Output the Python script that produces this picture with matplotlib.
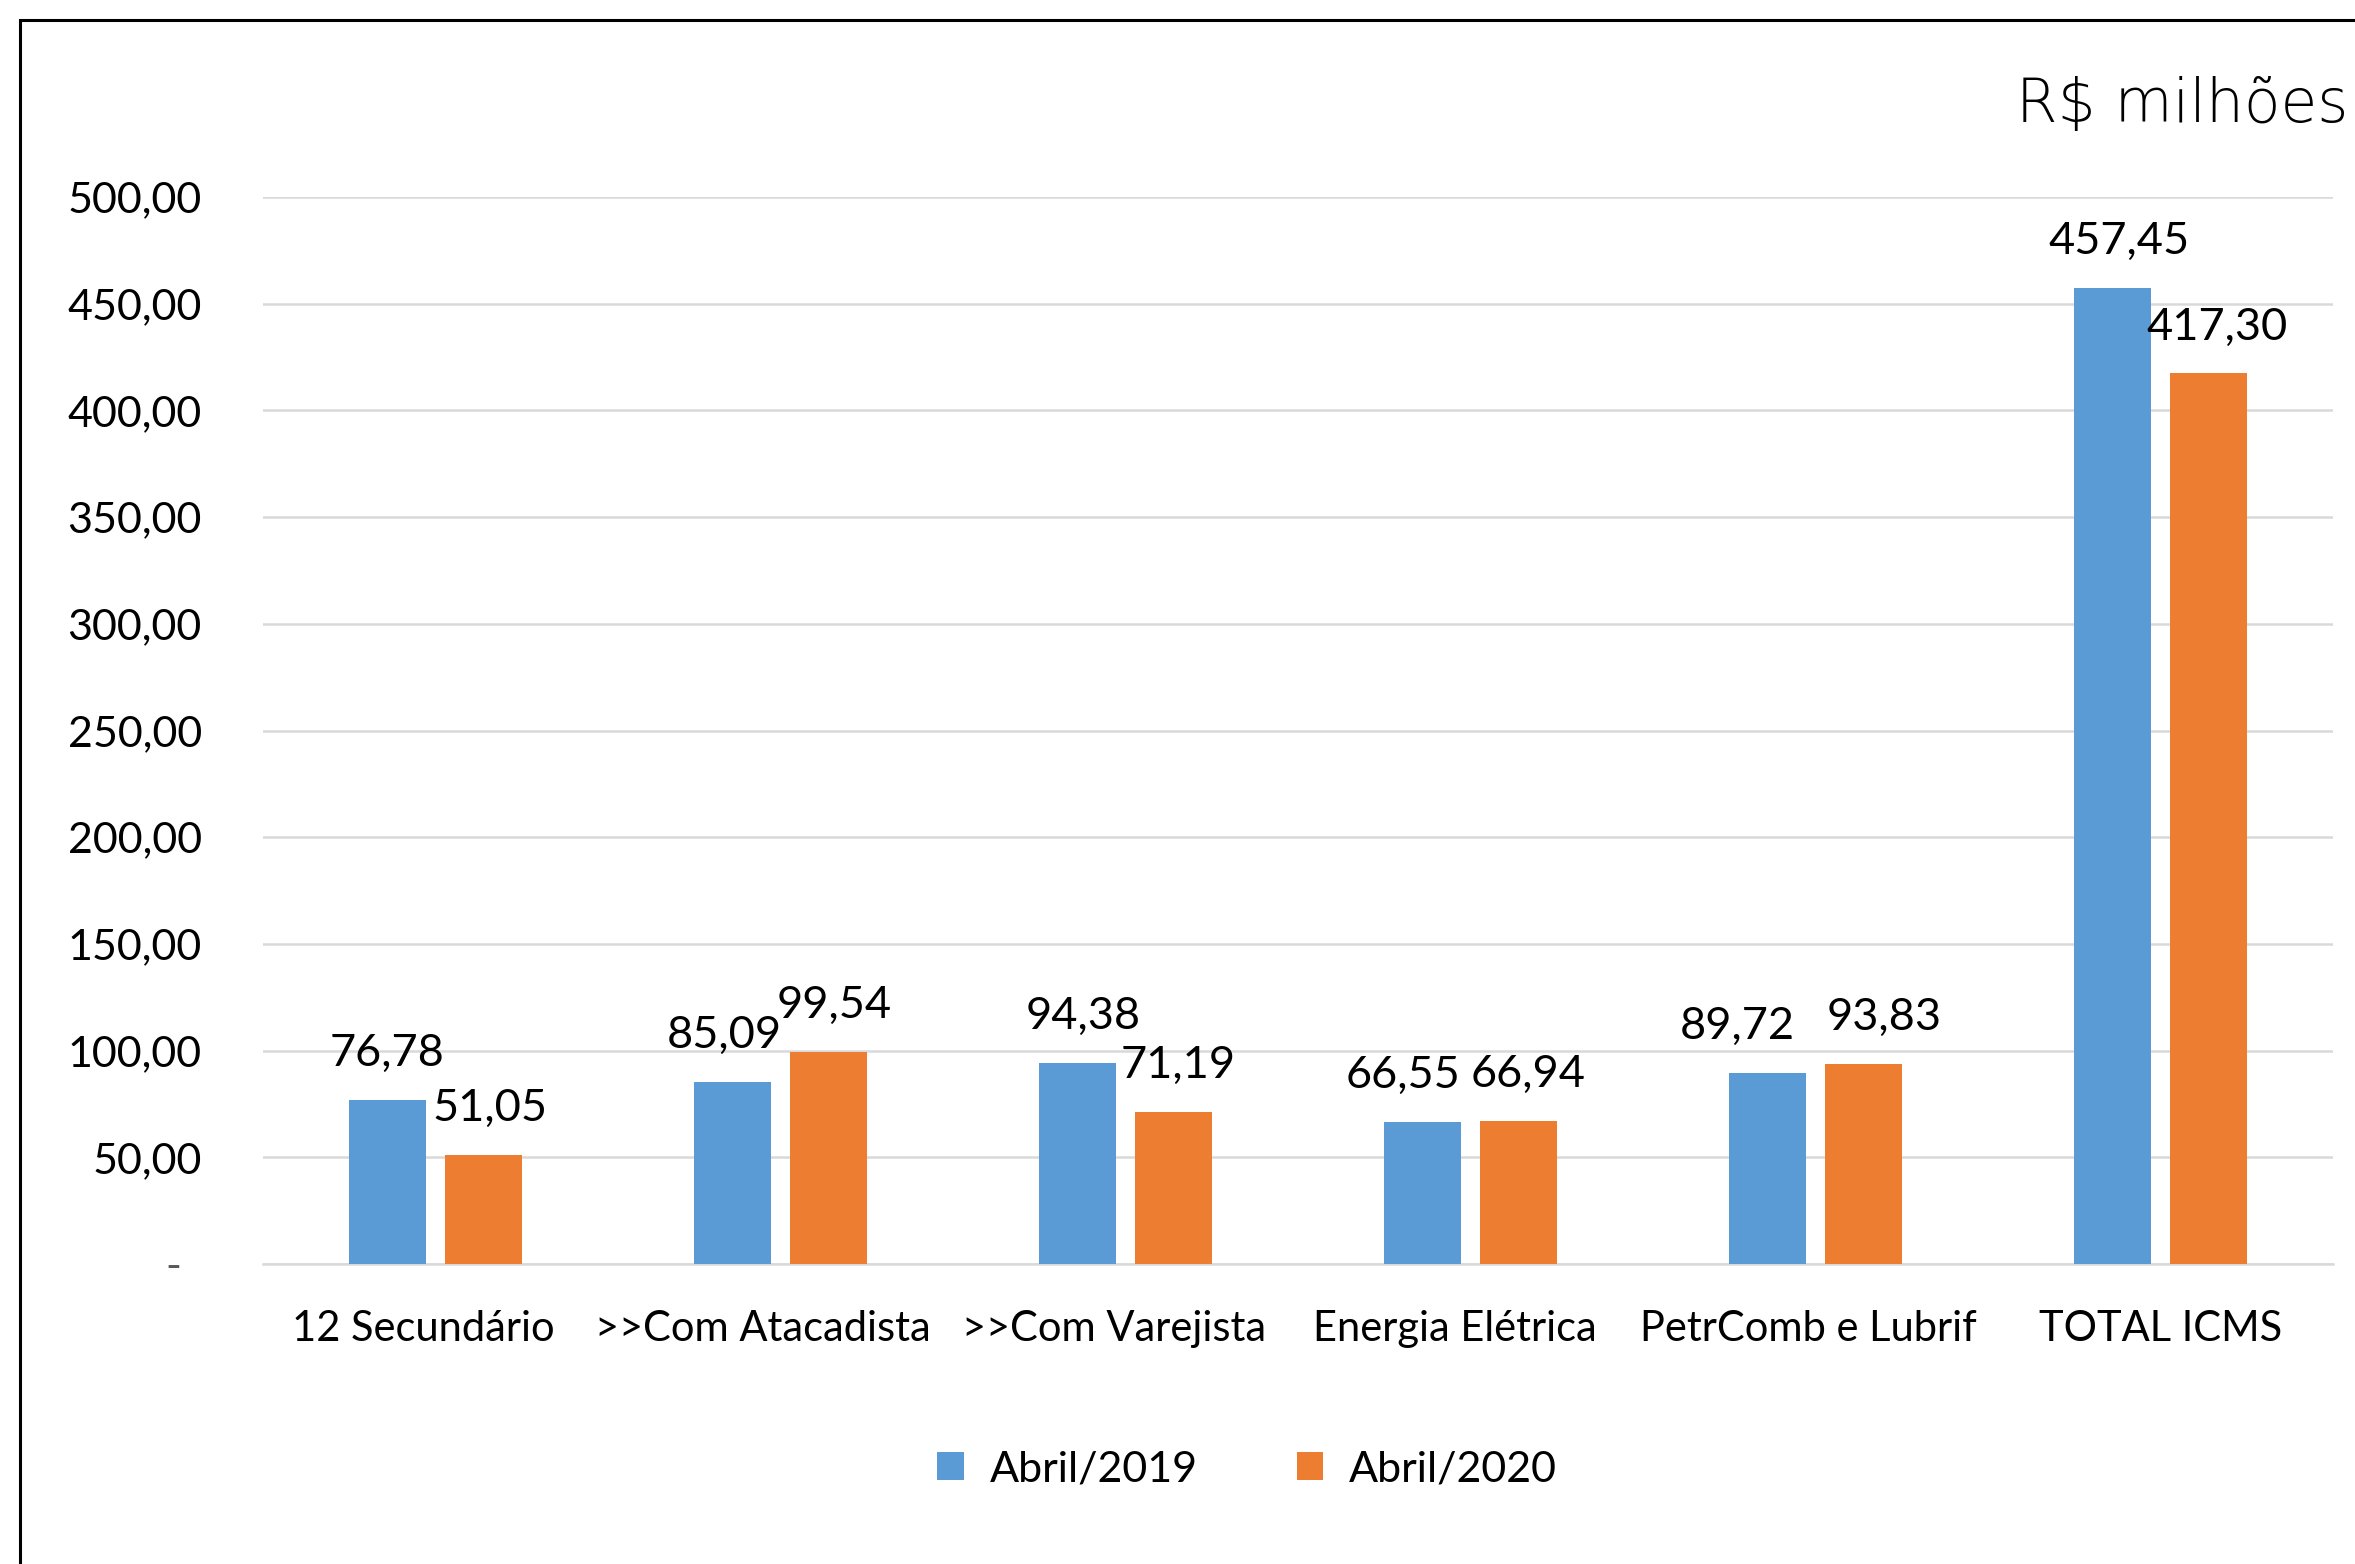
import matplotlib
matplotlib.use("Agg")
import matplotlib.pyplot as plt
from matplotlib.patches import Rectangle
from matplotlib.transforms import ScaledTranslation
import numpy as np

categories = ["12 Secundário", ">>Com Atacadista", ">>Com Varejista",
              "Energia Elétrica", "PetrComb e Lubrif", "TOTAL ICMS"]
abril_2019 = [76.78, 85.09, 94.38, 66.55, 89.72, 457.45]
abril_2020 = [51.05, 99.54, 71.19, 66.94, 93.83, 417.30]
series_names = ["Abril/2019", "Abril/2020"]
y_ticks = [0, 50, 100, 150, 200, 250, 300, 350, 400, 450, 500]
unit_label = "R$ milhões"

# label nudges (pixels), as placed in the original chart
label_dx_2019 = [0, -8, 6, -20, -30, 6]
label_dx_2020 = [6, 6, 5, 10, 21, 9]
cat_dx = [-12, -18, -11, -16, -7, 0]

BLUE = "#5B9BD5"
ORANGE = "#ED7D31"
GRID = "#D9D9D9"

plt.rcParams['font.family'] = ['Lato', 'DejaVu Sans']

W, H = 2355, 1564
DPI = 100
fig = plt.figure(figsize=(W / DPI, H / DPI), dpi=DPI)
fig.patch.set_facecolor("white")

left, right = 263 / W, 2333 / W
bottom, top = 1 - 1264 / H, 1 - 197 / H
ax = fig.add_axes([left, bottom, right - left, top - bottom])

x = np.arange(len(categories))
bw = 0.223
gap = 0.055
off = (bw + gap) / 2

b1 = ax.bar(x - off, abril_2019, bw, color=BLUE, label=series_names[0], zorder=3)
b2 = ax.bar(x + off, abril_2020, bw, color=ORANGE, label=series_names[1], zorder=3)

def fmt(v):
    return f"{v:.2f}".replace(".", ",")

for bars, vals, dxs in ((b1, abril_2019, label_dx_2019), (b2, abril_2020, label_dx_2020)):
    for rect, v, dx in zip(bars, vals, dxs):
        ax.annotate(fmt(v), xy=(rect.get_x() + rect.get_width() / 2, v),
                    xytext=(dx, 34), textcoords="offset pixels",
                    ha="center", va="baseline", fontsize=32.5, color="black",
                    zorder=4)

ax.set_xlim(-0.5, len(categories) - 0.5)
ax.set_ylim(0, 500)
ax.set_yticks(y_ticks)
ax.set_yticklabels(["" if t == 0 else fmt(t) for t in y_ticks])
ax.tick_params(axis="y", length=0, pad=44, labelsize=31, labelcolor="black")
ax.set_xticks(x)
ax.set_xticklabels(categories)
ax.tick_params(axis="x", length=0, pad=33, labelsize=30, labelcolor="black")
for lbl, dx in zip(ax.get_xticklabels(), cat_dx):
    lbl.set_transform(lbl.get_transform() + ScaledTranslation(dx / DPI, 0, fig.dpi_scale_trans))

# zero shown as dash (accounting format)
ax.annotate("-", xy=(0, 0), xycoords=ax.get_yaxis_transform(),
            xytext=(-90, 0), textcoords="offset pixels",
            ha="center", va="center_baseline", fontsize=31, color="#595959")

ax.yaxis.grid(True, color=GRID, linewidth=1.8, zorder=0)
ax.set_axisbelow(True)
for s in ("top", "right", "left"):
    ax.spines[s].set_visible(False)
ax.spines["bottom"].set_color(GRID)
ax.spines["bottom"].set_linewidth(1.8)
ax.spines["bottom"].set_zorder(2)

fig.text(2348 / W, 1 - 122 / H, unit_label, ha="right", va="baseline",
         fontsize=43, fontweight="light", color="black", family="DejaVu Sans")

fig.legend(handles=[b1, b2], labels=series_names, loc="center",
           bbox_to_anchor=(1247 / W, 1 - 1469 / H), ncol=2, frameon=False,
           fontsize=31, handlelength=0.62, handleheight=0.62,
           handletextpad=0.6, columnspacing=2.3)

# outer chart border (left and top visible)
fig.add_artist(Rectangle((19.5 / W, -0.1), 1.2, 1.1 - 19.5 / H,
                         transform=fig.transFigure, fill=False,
                         edgecolor="black", linewidth=2.2, clip_on=False))

fig.savefig("out.png", dpi=DPI, facecolor="white")
